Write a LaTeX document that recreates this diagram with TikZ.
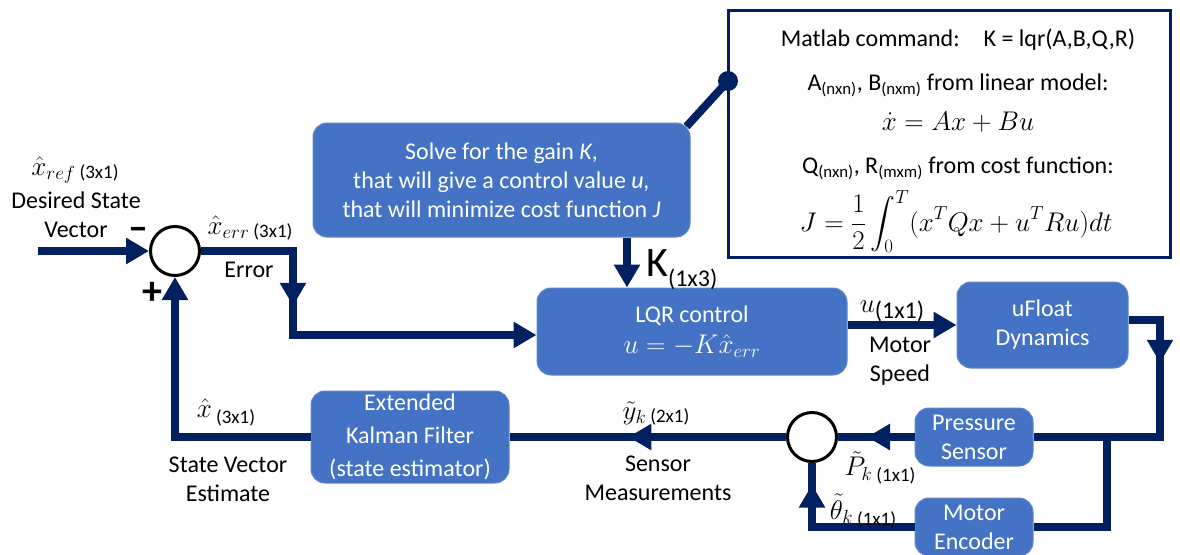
\RequirePackage{fix-cm}
\documentclass[tikz,border=0pt]{standalone}
\usepackage{amsmath}
\usepackage{fontspec}
\setmainfont{Carlito}
\usetikzlibrary{arrows.meta,decorations.markings}
\definecolor{navy}{RGB}{0,32,96}
\definecolor{boxblue}{RGB}{68,114,196}
\newcommand\szmain{\fontsize{24}{29}\selectfont}
\newcommand\szsmall{\fontsize{19}{22}\selectfont}
\newcommand\szK{\fontsize{42}{46}\selectfont}
\newcommand\szsign{\fontsize{40}{44}\selectfont}
\newcommand\mth[1]{{\fontsize{27}{30}\selectfont$#1$}}
\begin{document}
\begin{tikzpicture}[x=1pt,y=-1pt,
  blk/.style={rectangle, rounded corners=14pt, fill=boxblue, draw=boxblue!85!white, line width=1pt, text=white, align=center, font=\szmain, inner sep=0pt},
  sig/.style={draw=navy, color=navy, line width=8pt},
  tipend/.style={-{Triangle[length=23pt,width=25pt]}},
  midarr/.style={postaction={decorate}, decoration={markings, mark=at position #1 with {\arrow{Triangle[length=23pt,width=25pt]}}}},
  sumj/.style={circle, draw=black, line width=3pt, fill=white, minimum size=49pt, inner sep=0pt},
  lbl/.style={font=\szmain, text=black, inner sep=0pt, align=center},
  infotxt/.style={font=\szmain, text=black, inner sep=0pt, align=center}]
\useasboundingbox (0,0) rectangle (1180,554);
\clip (0,0) rectangle (1180,554);
\fill[white] (0,0) rectangle (1180,554);

% info box
\node[draw=navy, line width=3pt, minimum width=442pt, minimum height=247pt, inner sep=0pt] (info) at (949,133.5) {};
\node[infotxt] (i1) at (958,40) {Matlab command:\quad K = lqr(A,B,Q,R)};
\node[infotxt] (i2) at (958,85) {A\textsubscript{(nxn)}, B\textsubscript{(nxm)} from linear model:};
\node[infotxt] (i3) at (958,122) {\mth{\dot{x} = Ax + Bu}};
\node[infotxt] (i4) at (958,168) {Q\textsubscript{(nxn)}, R\textsubscript{(mxm)} from cost function:};
\node[infotxt] (i5) at (956,222) {{\fontsize{27}{30}\selectfont$\displaystyle J=\frac{1}{2}\int_0^T (x^TQx+u^TRu)dt$}};
\node[circle, fill=navy, minimum size=20pt, inner sep=0pt] (dot) at (728,81) {};

% blocks
\node[blk, minimum width=377pt, minimum height=114pt] (solve) at (501.5,180) {Solve for the gain \textit{K},\\that will give a control value \textit{u,}\\that will minimize cost function \textit{J}};
\node[blk, minimum width=310pt, minimum height=87pt, font=\fontsize{24}{31}\selectfont] (lqr) at (692,331.5) {LQR control\\\mth{u=-K\hat{x}_{err}}};
\node[blk, minimum width=171pt, minimum height=86pt] (ufl) at (1042.5,325) {uFloat\\Dynamics};
\node[blk, minimum width=198pt, minimum height=92pt, font=\fontsize{24}{33}\selectfont] (ekf) at (410,437) {Extended\\Kalman Filter\\(state estimator)};
\node[blk, minimum width=118pt, minimum height=58pt] (ps) at (974,437) {Pressure\\Sensor};
\node[blk, minimum width=118pt, minimum height=58pt] (enc) at (974,527) {Motor\\Encoder};

% summing junctions
\node[sumj] (s1) at (175,251) {};
\node[sumj] (s2) at (812,437) {};

% helper coordinates
\coordinate (in) at (38,251);
\coordinate (e1) at (293,335);
\coordinate (kx) at (627,200);
\coordinate (r1) at (1160,437);
\coordinate (r2) at (1107,437);

% connectors
\draw[sig, line cap=butt] (dot.center) -- ([xshift=-4pt,yshift=-4pt]solve.north east);
\draw[sig, tipend] (in) -- (s1.west);
\draw[sig, tipend, midarr=0.35] (s1.east) -| (e1) -- (lqr.west |- e1);
\draw[sig, tipend] (solve.south -| kx) -- (lqr.north -| kx);
\draw[sig, tipend] (lqr.east |- ufl.west) -- (ufl.west);
\draw[sig, midarr=0.27] ([yshift=5pt]ufl.east) -| (r1) -- (ps.east);
\draw[sig] (r2) |- (enc.east);
\draw[sig, midarr=0.62] (ps.west) -- (s2.east);
\draw[sig, midarr=0.87] (enc.west) -| (s2.south);
\draw[sig, midarr=0.57] (s2.west) -- (ekf.east);
\draw[sig, tipend] (ekf.west) -| (s1.south);

% labels
\node[lbl] (lxref) at (75,170) {\mth{\hat{x}_{ref}}\,\raisebox{-3pt}{\szsmall(3x1)}};
\node[lbl] (ldes) at (76,215) {Desired State\\Vector};
\node[lbl, font=\szsign\bfseries] (lminus) at (138,234) {\textendash};
\node[lbl, font=\szsign\bfseries] (lplus) at (152,293) {+};
\node[lbl] (lxerr) at (250,228) {\mth{\hat{x}_{err}}\,\raisebox{-3pt}{\szsmall(3x1)}};
\node[lbl] (lerr) at (249,270) {Error};
\node[lbl, anchor=base west] (lK) at (646,276) {\szK K\raisebox{-10pt}{\szmain(1x3)}};
\node[lbl, anchor=base] (lu) at (892,312) {\mth{u}\raisebox{-6pt}{\szmain(1x1)}};
\node[lbl] (lms) at (900,361) {Motor\\Speed};
\node[lbl] (lxh) at (226,412) {\mth{\hat{x}}\,\raisebox{-6pt}{\szsmall(3x1)}};
\node[lbl] (lsve) at (228,479) {State Vector\\Estimate};
\node[lbl] (ly) at (656,413) {\mth{\tilde{y}_k}\,\raisebox{-3pt}{\szsmall(2x1)}};
\node[lbl] (lsm) at (658,478) {Sensor\\Measurements};
\node[lbl] (lP) at (880,468) {\mth{\tilde{P}_k}\,\raisebox{-6pt}{\szsmall(1x1)}};
\node[lbl] (lth) at (863,511) {\mth{\tilde{\theta}_k}\,\raisebox{-6pt}{\szsmall(1x1)}};
\end{tikzpicture}
\end{document}
